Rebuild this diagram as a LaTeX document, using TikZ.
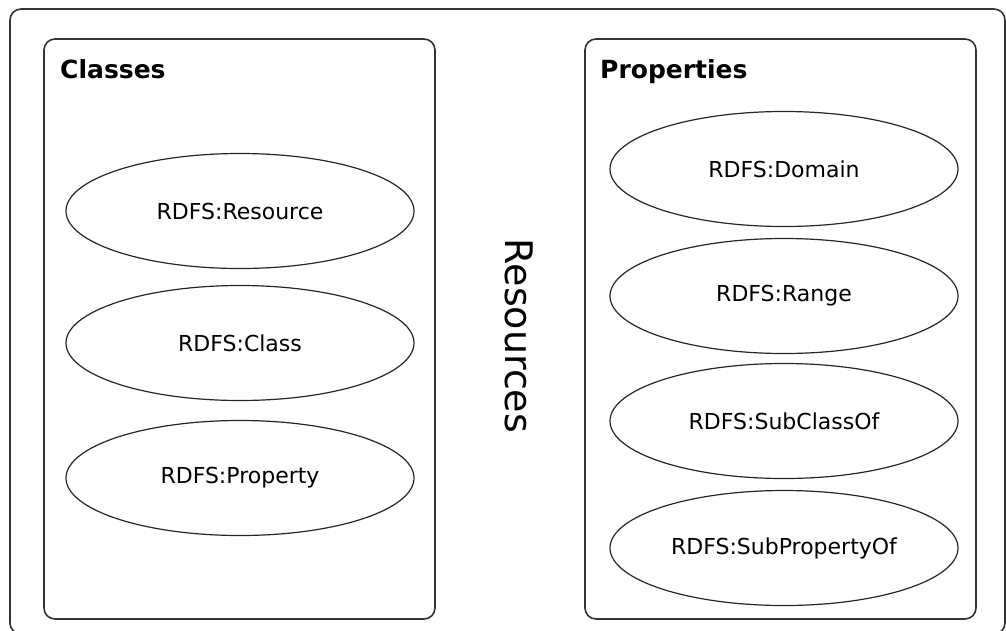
\documentclass[tikz,border=0pt]{standalone}
\usepackage{fontspec}
\setmainfont{DejaVu Sans}
\usetikzlibrary{shapes.geometric}

\begin{document}
\begin{tikzpicture}[x=1pt,y=-1pt]
  \tikzset{BoxStyle/.style  = {draw=black!80, line width=1.6pt, rounded corners=11pt},
           ItemStyle/.style = {ellipse, draw=black!85, line width=1.2pt,
                               minimum width=348pt, minimum height=115pt, inner sep=0pt,
                               font=\fontsize{22}{26}\selectfont},
           TitleStyle/.style = {anchor=base west, inner sep=0pt,
                               font=\bfseries\fontsize{25}{30}\selectfont}}
  \useasboundingbox (0,0) rectangle (1006,630);
  \clip (0,0) rectangle (1006,630);
  %% frame, classes, properties
  \draw[BoxStyle] (10,9) rectangle (1005,634);
  \draw[BoxStyle] (44,39) rectangle (435,619);
  \draw[BoxStyle] (585,39) rectangle (976,619);
  \node[TitleStyle] (classes) at (60,78) {Classes};
  \node[TitleStyle] (properties) at (600,78) {Properties};
  \node[rotate=-90, font=\fontsize{38}{44}\selectfont] (resources) at (519,336) {Resources};
  %% classes
  \node[ItemStyle] (resource) at (240,211) {RDFS:Resource};
  \node[ItemStyle] (class)    at (240,343) {RDFS:Class};
  \node[ItemStyle] (property) at (240,478) {RDFS:Property};
  %% properties
  \node[ItemStyle] (domain)      at (784,169) {RDFS:Domain};
  \node[ItemStyle] (range)       at (784,296) {RDFS:Range};
  \node[ItemStyle] (subclass)    at (784,421) {RDFS:SubClassOf};
  \node[ItemStyle] (subproperty) at (784,548) {RDFS:SubPropertyOf};
\end{tikzpicture}
\end{document}
